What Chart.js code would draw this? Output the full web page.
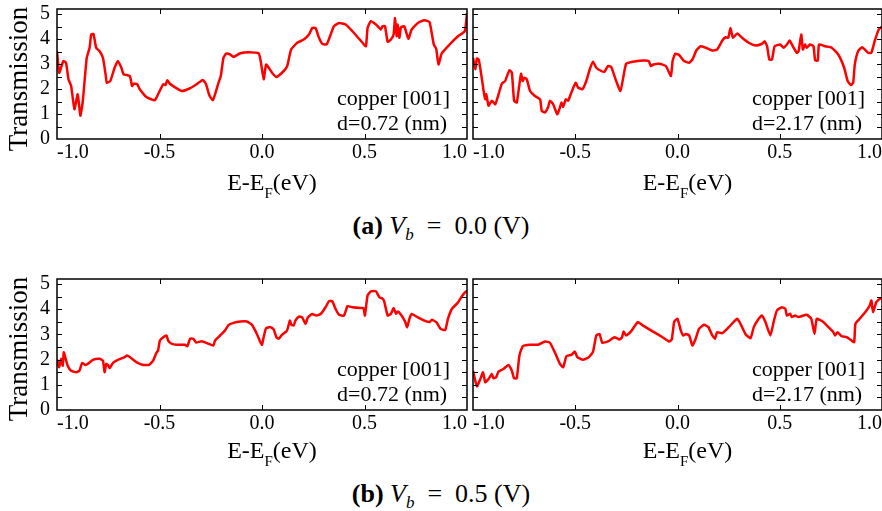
<!DOCTYPE html>
<html>
<head>
<meta charset="utf-8">
<script src="https://cdn.jsdelivr.net/npm/chart.js@4.4.1/dist/chart.umd.min.js"></script>
<style>
  body { margin: 0; background: #fff; }
  #wrap { position: relative; width: 882px; height: 511px; overflow: hidden; }
  canvas { position: absolute; }
  .cap { position: absolute; left: 0; width: 882px; text-align: center; font-family: 'Liberation Serif', serif; font-size: 26px; line-height: 30px; color: #000; }
  .cap sub { font-size: 17px; }
</style>
</head>
<body>
<div id="wrap">
  <canvas id="pA1" style="left:0;top:0" width="470" height="200"></canvas>
  <canvas id="pA2" style="left:470px;top:0" width="412" height="200"></canvas>
  <canvas id="pB1" style="left:0;top:270px" width="470" height="201"></canvas>
  <canvas id="pB2" style="left:470px;top:270px" width="412" height="201"></canvas>
  <div class="cap" style="top:211px"><b>(a)</b> <i>V<sub>b</sub></i>&nbsp;&nbsp;=&nbsp;&nbsp;0.0 (V)</div>
  <div class="cap" style="top:479px"><b>(b)</b> <i>V<sub>b</sub></i>&nbsp;&nbsp;=&nbsp;&nbsp;0.5 (V)</div>
</div>
<script>
// axes
const xTicks = [-1.0, -0.5, 0.0, 0.5, 1.0];
const yTicks = [0, 1, 2, 3, 4, 5];
const yMarks = [0.5, 1, 1.5, 2, 2.5, 3, 3.5, 4, 4.5, 5];

// (a) Vb = 0.0 V, d = 0.72 nm
const energyA1 = [-1.0, -0.989, -0.969, -0.956, -0.944, -0.931, -0.915, -0.899, -0.886, -0.874,
  -0.855, -0.841, -0.833, -0.822, -0.809, -0.792, -0.776, -0.763, -0.757, -0.740,
  -0.719, -0.703, -0.686, -0.675, -0.645, -0.634, -0.626, -0.609, -0.596, -0.564,
  -0.523, -0.507, -0.482, -0.471, -0.462, -0.449, -0.417, -0.392, -0.351, -0.319,
  -0.289, -0.273, -0.257, -0.240, -0.224, -0.212, -0.201, -0.188, -0.175, -0.155,
  -0.139, -0.109, -0.065, -0.016, -0.005, 0.008, 0.020, 0.033, 0.049, 0.070,
  0.106, 0.123, 0.142, 0.172, 0.204, 0.229, 0.245, 0.261, 0.278, 0.294,
  0.315, 0.335, 0.351, 0.376, 0.408, 0.449, 0.490, 0.507, 0.515, 0.531,
  0.556, 0.580, 0.588, 0.600, 0.613, 0.629, 0.642, 0.649, 0.657, 0.662,
  0.670, 0.678, 0.694, 0.714, 0.730, 0.760, 0.792, 0.817, 0.838, 0.850,
  0.861, 0.877, 0.915, 0.956, 0.989, 1.0];
const transA1 = [3.51, 2.65, 3.12, 3.05, 2.39, 2.12, 1.19, 1.79, 0.93, 1.53,
  3.25, 3.65, 4.18, 4.20, 3.65, 3.51, 3.25, 2.59, 2.25, 2.32,
  2.85, 3.12, 2.85, 2.59, 2.52, 2.12, 2.21, 2.19, 1.99, 1.68,
  1.55, 1.79, 2.19, 2.16, 2.35, 2.21, 2.03, 1.92, 2.03, 2.19,
  2.36, 2.19, 1.75, 1.55, 1.92, 2.25, 2.52, 3.25, 3.41, 3.38,
  3.28, 3.42, 3.47, 3.42, 3.05, 2.39, 2.98, 2.85, 2.65, 2.48,
  2.72, 2.92, 3.58, 3.85, 3.98, 4.18, 4.44, 4.44, 4.05, 3.81,
  3.78, 4.18, 4.51, 4.64, 4.58, 4.24, 3.85, 3.71, 4.44, 4.71,
  4.58, 4.38, 4.51, 4.51, 3.89, 3.98, 4.18, 4.84, 4.11, 4.58,
  4.05, 4.47, 4.51, 4.01, 4.38, 4.64, 4.75, 4.68, 3.78, 3.60,
  2.98, 3.43, 3.78, 4.11, 4.31, 5.04];

// (a) Vb = 0.0 V, d = 2.17 nm
const energyA2 = [-1.0, -0.989, -0.981, -0.972, -0.961, -0.948, -0.940, -0.935, -0.924, -0.908,
  -0.891, -0.875, -0.859, -0.843, -0.822, -0.810, -0.799, -0.786, -0.773, -0.765,
  -0.757, -0.749, -0.737, -0.721, -0.697, -0.672, -0.664, -0.648, -0.632, -0.624,
  -0.608, -0.588, -0.575, -0.567, -0.559, -0.546, -0.535, -0.519, -0.498, -0.486,
  -0.465, -0.446, -0.429, -0.413, -0.397, -0.373, -0.357, -0.340, -0.324, -0.300,
  -0.279, -0.264, -0.251, -0.219, -0.170, -0.141, -0.130, -0.118, -0.089, -0.057,
  -0.032, -0.024, -0.011, 0.008, 0.032, 0.057, 0.073, 0.092, 0.113, 0.138,
  0.170, 0.194, 0.219, 0.235, 0.248, 0.259, 0.271, 0.292, 0.316, 0.348,
  0.381, 0.413, 0.426, 0.438, 0.449, 0.462, 0.475, 0.502, 0.519, 0.535,
  0.548, 0.564, 0.583, 0.592, 0.605, 0.613, 0.624, 0.632, 0.648, 0.665,
  0.673, 0.686, 0.692, 0.721, 0.754, 0.786, 0.815, 0.832, 0.848, 0.859,
  0.867, 0.883, 0.903, 0.932, 0.948, 0.964, 0.984, 1.0];
const transA2 = [3.25, 2.79, 3.22, 3.18, 2.65, 1.92, 1.59, 1.79, 1.33, 1.53,
  1.39, 1.79, 2.21, 2.32, 2.75, 2.65, 1.53, 1.46, 2.19, 2.61,
  2.32, 2.45, 2.39, 1.92, 1.72, 1.59, 1.13, 1.06, 1.29, 1.53,
  1.39, 0.99, 1.26, 1.46, 1.29, 1.59, 1.53, 1.86, 2.25, 2.06,
  1.99, 2.32, 2.79, 3.09, 2.85, 2.72, 2.69, 2.92, 2.88, 2.32,
  1.92, 2.52, 3.01, 3.09, 3.14, 3.12, 2.92, 2.98, 3.01, 2.92,
  2.52, 3.12, 3.41, 3.36, 3.12, 3.05, 3.18, 3.54, 3.71, 3.65,
  3.54, 3.58, 3.94, 4.07, 4.05, 4.44, 4.05, 4.22, 4.05, 3.85,
  3.74, 3.81, 3.91, 3.71, 3.18, 3.18, 3.71, 3.78, 3.65, 3.78,
  3.94, 3.71, 3.45, 3.51, 4.18, 3.58, 3.78, 3.65, 3.78, 3.71,
  3.14, 3.14, 3.78, 3.71, 3.65, 3.38, 2.85, 2.32, 2.16, 2.25,
  2.98, 3.51, 3.67, 3.45, 3.45, 3.91, 4.38, 4.50];

// (b) Vb = 0.5 V, d = 0.72 nm
const energyB1 = [-1.0, -0.997, -0.989, -0.980, -0.972, -0.967, -0.960, -0.948, -0.931, -0.907,
  -0.891, -0.877, -0.861, -0.845, -0.825, -0.792, -0.776, -0.768, -0.760, -0.752,
  -0.743, -0.727, -0.703, -0.670, -0.659, -0.645, -0.613, -0.580, -0.551, -0.531,
  -0.515, -0.507, -0.498, -0.482, -0.466, -0.458, -0.441, -0.417, -0.376, -0.364,
  -0.351, -0.335, -0.322, -0.294, -0.261, -0.237, -0.229, -0.204, -0.180, -0.163,
  -0.139, -0.106, -0.074, -0.049, -0.025, -0.008, 0.0, 0.008, 0.020, 0.041,
  0.057, 0.070, 0.082, 0.098, 0.119, 0.126, 0.136, 0.144, 0.155, 0.163,
  0.180, 0.196, 0.212, 0.224, 0.245, 0.266, 0.286, 0.310, 0.327, 0.343,
  0.359, 0.376, 0.400, 0.417, 0.441, 0.482, 0.495, 0.502, 0.515, 0.531,
  0.556, 0.572, 0.588, 0.596, 0.613, 0.629, 0.642, 0.654, 0.662, 0.678,
  0.698, 0.708, 0.719, 0.730, 0.760, 0.792, 0.817, 0.828, 0.850, 0.871,
  0.894, 0.907, 0.926, 0.956, 0.980, 0.997, 1.0];
const transB1 = [1.76, 1.96, 1.70, 2.03, 1.76, 2.29, 2.10, 1.76, 1.56, 1.50,
  1.56, 1.87, 1.79, 1.86, 1.99, 2.03, 1.96, 1.50, 1.83, 1.79,
  1.66, 1.87, 1.99, 2.10, 2.16, 2.10, 1.90, 1.79, 1.79, 1.96,
  2.27, 2.36, 2.76, 2.89, 2.96, 2.76, 2.63, 2.59, 2.59, 2.53,
  2.83, 2.83, 2.68, 2.73, 2.63, 2.56, 2.76, 2.96, 3.16, 3.38,
  3.46, 3.51, 3.51, 3.38, 3.02, 2.69, 2.59, 2.89, 3.25, 3.29,
  3.20, 2.89, 2.83, 2.99, 3.12, 3.25, 3.55, 3.38, 3.36, 3.55,
  3.71, 3.68, 3.42, 3.68, 3.81, 3.75, 3.81, 4.08, 4.32, 4.31,
  4.01, 3.78, 3.75, 4.12, 4.08, 4.05, 4.05, 3.75, 4.55, 4.71,
  4.71, 4.48, 4.42, 4.31, 3.75, 3.82, 4.05, 3.82, 3.91, 3.78,
  3.51, 3.29, 3.62, 3.81, 3.68, 3.55, 3.49, 3.58, 3.49, 3.22,
  3.18, 3.62, 4.01, 4.27, 4.57, 4.71, 4.65];

// (b) Vb = 0.5 V, d = 2.17 nm
const energyB2 = [-1.0, -0.981, -0.964, -0.951, -0.940, -0.924, -0.908, -0.900, -0.887, -0.875,
  -0.851, -0.827, -0.810, -0.799, -0.786, -0.773, -0.757, -0.721, -0.681, -0.648,
  -0.624, -0.600, -0.575, -0.559, -0.543, -0.519, -0.502, -0.490, -0.462, -0.433,
  -0.413, -0.397, -0.381, -0.368, -0.340, -0.308, -0.284, -0.271, -0.264, -0.251,
  -0.227, -0.194, -0.170, -0.122, -0.073, -0.041, -0.028, -0.016, 0.0, 0.016,
  0.028, 0.041, 0.057, 0.073, 0.089, 0.105, 0.130, 0.151, 0.170, 0.183,
  0.194, 0.219, 0.251, 0.292, 0.308, 0.332, 0.357, 0.373, 0.397, 0.413,
  0.430, 0.454, 0.470, 0.486, 0.511, 0.527, 0.535, 0.551, 0.559, 0.575,
  0.592, 0.632, 0.654, 0.670, 0.681, 0.713, 0.738, 0.762, 0.770, 0.783,
  0.802, 0.827, 0.851, 0.864, 0.870, 0.891, 0.924, 0.940, 0.948, 0.956,
  0.972, 0.990, 1.0];
const transB2 = [1.56, 0.94, 1.23, 1.50, 1.10, 1.23, 1.43, 1.26, 1.30, 1.53,
  1.63, 1.79, 1.56, 1.26, 1.26, 2.16, 2.53, 2.59, 2.59, 2.72,
  2.67, 2.29, 1.83, 1.70, 2.14, 2.19, 2.32, 2.10, 1.99, 2.10,
  2.32, 2.96, 3.02, 2.67, 2.72, 2.89, 2.80, 2.89, 3.12, 2.96,
  3.12, 3.49, 3.36, 3.12, 2.89, 2.72, 2.80, 3.51, 3.62, 3.16,
  2.96, 3.02, 2.96, 2.56, 2.83, 3.22, 3.38, 3.29, 2.96, 2.83,
  3.09, 3.05, 3.29, 3.62, 3.42, 3.02, 2.85, 3.29, 3.62, 3.75,
  3.49, 2.96, 3.49, 3.95, 4.08, 4.02, 3.75, 3.82, 3.69, 3.75,
  3.69, 3.78, 3.62, 3.02, 3.62, 3.49, 3.29, 3.09, 2.96, 3.09,
  2.93, 2.89, 2.76, 2.69, 3.42, 3.62, 3.95, 4.15, 4.35, 3.89,
  4.28, 4.42, 4.45];

const serif = '"Liberation Serif", serif';

// box, inward ticks, labels
const framePlugin = {
  id: 'frame',
  afterDraw(chart, args, opts) {
    const { ctx, chartArea: a, scales: { x, y } } = chart;
    ctx.save();
    ctx.strokeStyle = '#000';
    ctx.lineWidth = 1.5;
    ctx.strokeRect(a.left, a.top, a.right - a.left, a.bottom - a.top);
    ctx.lineWidth = 1;
    ctx.beginPath();
    yMarks.forEach(v => {
      const py = Math.round(y.getPixelForValue(v)) + 0.5;
      ctx.moveTo(a.left, py); ctx.lineTo(a.left + 5, py);
      ctx.moveTo(a.right, py); ctx.lineTo(a.right - 5, py);
    });
    xTicks.slice(1, -1).forEach(v => {
      const px = Math.round(x.getPixelForValue(v)) + 0.5;
      ctx.moveTo(px, a.top); ctx.lineTo(px, a.top + 5);
      ctx.moveTo(px, a.bottom); ctx.lineTo(px, a.bottom - 5);
    });
    ctx.stroke();

    ctx.fillStyle = '#000';
    ctx.textBaseline = 'alphabetic';
    ctx.textAlign = 'left';
    ctx.font = '22px ' + serif;
    ctx.fillText(opts.material, a.right - 130, a.bottom - 34);
    ctx.fillText(opts.thickness, a.right - 130, a.bottom - 9);

    // E-E_F(eV)
    const big = '24px ' + serif, small = '15px ' + serif;
    ctx.font = big;
    const w1 = ctx.measureText('E-E').width, w3 = ctx.measureText('(eV)').width;
    ctx.font = small;
    const w2 = ctx.measureText('F').width;
    let tx = (a.left + a.right) / 2 + 10 - (w1 + w2 + w3) / 2;
    const ty = a.bottom + opts.titleGap;
    ctx.font = big; ctx.fillText('E-E', tx, ty); tx += w1;
    ctx.font = small; ctx.fillText('F', tx, ty + 8); tx += w2;
    ctx.font = big; ctx.fillText('(eV)', tx, ty);

    if (opts.yTitle) {
      ctx.translate(20, a.top + 70);
      ctx.rotate(-Math.PI / 2);
      ctx.textAlign = 'center';
      ctx.textBaseline = 'middle';
      ctx.font = '27px ' + serif;
      ctx.fillText('Transmission', 0, 0);
    }
    ctx.restore();
  }
};

function makePanel(id, energy, trans, thickness, leftPanel, titleGap) {
  const pts = energy.map((e, i) => ({ x: e, y: trans[i] }));
  new Chart(document.getElementById(id), {
    type: 'line',
    data: { datasets: [{ data: pts, borderColor: '#ff0000', borderWidth: 2.5, pointRadius: 0, tension: 0.15, fill: false }] },
    options: {
      responsive: false,
      animation: false,
      layout: { padding: { left: leftPanel ? 0 : 3, right: leftPanel ? 3 : 0, top: 9, bottom: 0 } },
      plugins: {
        legend: { display: false },
        tooltip: { enabled: false },
        frame: { material: 'copper [001]', thickness: thickness, yTitle: leftPanel, titleGap: titleGap }
      },
      scales: {
        x: {
          type: 'linear', min: -1, max: 1,
          afterBuildTicks: s => { s.ticks = xTicks.map(v => ({ value: v })); },
          afterFit: s => { s.height = 61; s.paddingLeft = 0; s.paddingRight = 0; },
          grid: { display: false, drawTicks: false },
          border: { display: false },
          ticks: { align: 'inner', padding: 2, maxRotation: 0, autoSkip: false, color: '#000',
            font: { family: serif, size: 20 }, callback: v => v.toFixed(1) }
        },
        y: {
          display: leftPanel, min: 0, max: 5.2,
          afterBuildTicks: s => { s.ticks = yTicks.map(v => ({ value: v })); },
          afterFit: s => { s.width = leftPanel ? 57 : 0; s.paddingTop = 0; s.paddingBottom = 0; },
          grid: { display: false, drawTicks: false },
          border: { display: false },
          ticks: { padding: 7, autoSkip: false, color: '#000', font: { family: serif, size: 20 } }
        }
      }
    },
    plugins: [framePlugin]
  });
}

makePanel('pA1', energyA1, transA1, 'd=0.72 (nm)', true, 51);
makePanel('pA2', energyA2, transA2, 'd=2.17 (nm)', false, 51);
makePanel('pB1', energyB1, transB1, 'd=0.72 (nm)', true, 48);
makePanel('pB2', energyB2, transB2, 'd=2.17 (nm)', false, 48);
</script>
</body>
</html>
